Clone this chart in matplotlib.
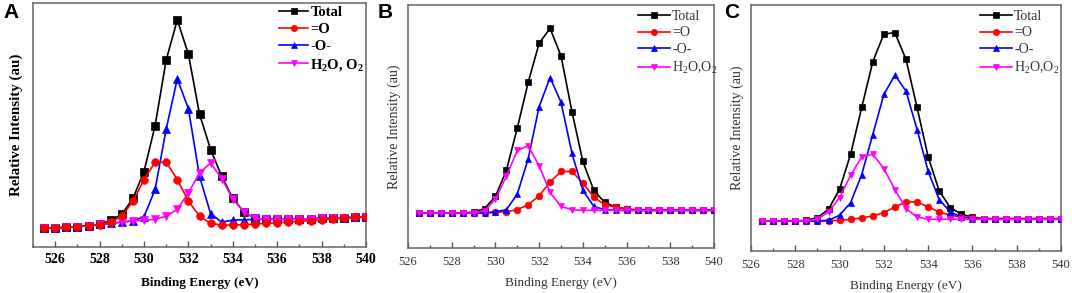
import matplotlib
matplotlib.use("Agg")
import matplotlib.pyplot as plt
from matplotlib.ticker import MultipleLocator

plt.rcParams["mathtext.fontset"] = "custom"
plt.rcParams["mathtext.rm"] = "Liberation Serif"
plt.rcParams["mathtext.bf"] = "Liberation Serif:bold"

# binding energies (eV)
energy_a = [525.5, 526, 526.5, 527, 527.5, 528, 528.5, 529, 529.5, 530, 530.5, 531, 531.5, 532,
            532.5, 533, 533.5, 534, 534.5, 535, 535.5, 536, 536.5, 537, 537.5, 538, 538.5, 539,
            539.5, 540]
energy_bc = energy_a[2:]

# panel A intensities (a.u.)
total_a = [56, 57, 59, 61, 64, 68, 80, 98, 146, 227, 365, 563, 683, 580, 400, 293, 213, 146, 106,
           86, 83, 83, 83, 84, 85, 86, 87, 88, 89, 91]
oxo_a = [56, 57, 59, 61, 64, 67, 75, 93, 137, 203, 255, 255, 203, 138, 93, 71, 66, 66, 67, 69,
         71, 73, 75, 77, 79, 81, 84, 86, 89, 91]
ether_a = [56, 57, 59, 61, 64, 68, 71, 75, 79, 91, 173, 355, 506, 416, 213, 100, 75, 81, 82, 83,
           83, 83, 83, 84, 85, 86, 87, 88, 89, 91]
water_a = [56, 57, 59, 61, 64, 68, 71, 75, 78, 81, 83, 93, 113, 163, 223, 253, 206, 145, 106, 86,
           83, 83, 83, 84, 85, 86, 87, 88, 89, 91]

# panel B
total_b = [105, 105, 105, 105, 105, 108, 118, 155, 233, 360, 498, 615, 660, 577, 410, 260, 173,
           137, 123, 117, 113, 113, 113, 113, 113, 113, 113, 113]
oxo_b = [105, 105, 105, 105, 105, 105, 105, 107, 109, 115, 130, 157, 198, 230, 230, 195, 153, 130,
         123, 118, 115, 115, 115, 115, 115, 115, 115, 115]
ether_b = [105, 105, 105, 105, 105, 105, 105, 109, 115, 162, 268, 425, 512, 438, 285, 173, 125,
           115, 113, 113, 113, 113, 113, 113, 113, 113, 113, 113]
water_b = [105, 105, 105, 105, 105, 105, 112, 147, 215, 293, 307, 247, 167, 125, 115, 113, 113,
           113, 113, 113, 113, 113, 113, 113, 113, 113, 113, 113]

# panel C
total_c = [90, 90, 90, 90, 92, 100, 125, 185, 290, 430, 567, 650, 654, 574, 430, 282, 180, 130,
           110, 102, 97, 97, 97, 97, 97, 97, 97, 97]
oxo_c = [90, 90, 90, 90, 90, 90, 90, 92, 95, 99, 105, 115, 132, 147, 147, 132, 117, 107, 102, 100,
         97, 97, 97, 97, 97, 97, 97, 97]
ether_c = [90, 90, 90, 90, 90, 90, 92, 107, 145, 229, 349, 469, 527, 479, 364, 239, 154, 117, 102,
           97, 95, 95, 95, 95, 95, 95, 95, 95]
water_c = [90, 90, 90, 90, 90, 95, 117, 160, 227, 282, 290, 247, 184, 127, 102, 95, 95, 95, 95,
           95, 95, 95, 95, 95, 95, 95, 95, 95]

W, H = 1072, 293
fig = plt.figure(figsize=(W / 100, H / 100), dpi=100)
serif = "Liberation Serif"


def box(l, r, t, b):
    return [l / W, 1 - b / H, (r - l) / W, (b - t) / H]


def panel(rect, x, series, order, xlim, ylim, bold, labels, ms, letter, letter_x, leg_anchor,
          fs):
    ax = fig.add_axes(rect)
    weight = "bold" if bold else "normal"
    tcol = "black" if bold else "#333333"
    styles = {
        "total": ("black", "s"),
        "oxo": ("red", "o"),
        "ether": ("blue", "^"),
        "water": ("magenta", "v"),
    }
    handles = {}
    for key in order:
        col, mk = styles[key]
        ln, = ax.plot(x, series[key], color=col, marker=mk, ms=ms, lw=1.2,
                      markeredgewidth=0.5, markeredgecolor=col, zorder=3)
        handles[key] = ln
    keys = ["total", "oxo", "ether", "water"]
    leg = ax.legend([handles[k] for k in keys], labels, loc="upper left",
                    bbox_to_anchor=leg_anchor, bbox_transform=fig.transFigure,
                    frameon=False, handlelength=fs["hlen"], handletextpad=0.15,
                    labelspacing=0.25, borderaxespad=0, borderpad=0,
                    prop={"family": serif, "weight": weight, "size": fs["legend"]})
    for t in leg.get_texts():
        t.set_color(tcol)
    for h in leg.legend_handles:
        h.set_markersize(4.5)
    ax.set_xlim(*xlim)
    ax.set_ylim(*ylim)
    ax.xaxis.set_major_locator(MultipleLocator(2))
    ax.xaxis.set_minor_locator(MultipleLocator(1))
    ax.tick_params(axis="x", which="major", direction="in", length=4, width=1, color="#555555",
                   labelsize=fs["tick"], labelcolor=tcol, pad=fs["pad"])
    ax.tick_params(axis="x", which="minor", direction="in", length=2.5, width=1, color="#555555")
    ax.set_yticks([])
    for lab in ax.get_xticklabels():
        lab.set_family(serif)
        lab.set_weight(weight)
    for s in ax.spines.values():
        s.set_color("#666666")
        s.set_linewidth(1.1)
    ax.set_xlabel("Binding Energy (eV)", family=serif, weight=weight, size=fs["xlabel"],
                  color=tcol, labelpad=fs["xpad"])
    ax.set_ylabel("Relative Intensity (au)", family=serif, weight=weight, size=fs["ylabel"],
                  color=tcol, labelpad=fs["ypad"])
    fig.text(letter_x / W, 1 - 3 / H, letter, family="Liberation Sans", weight="bold",
             size=15, ha="left", va="top")
    return ax


fs_a = {"legend": 10.5, "tick": 10, "pad": 4, "xlabel": 9.5, "xpad": 8, "ylabel": 10.8,
        "ypad": 7, "hlen": 2.0}
fs_bc = {"legend": 10, "tick": 9, "pad": 6, "xlabel": 9.5, "xpad": 6, "ylabel": 10,
         "ypad": 5, "hlen": 2.3}

panel(box(33, 366, 3, 247), energy_a,
      {"total": total_a, "oxo": oxo_a, "ether": ether_a, "water": water_a},
      ["total", "ether", "water", "oxo"], (525, 540), (0, 734), True,
      ["Total", "=O", "-O-", "H$\\mathbf{_2}$O, O$\\mathbf{_2}$"], 5.5, "A", 3,
      (279 / W, 1 - 6 / H), fs_a)

panel(box(408, 714, 5, 248), energy_bc,
      {"total": total_b, "oxo": oxo_b, "ether": ether_b, "water": water_b},
      ["total", "oxo", "ether", "water"], (526, 540), (0, 730), False,
      ["Total", "=O", "-O-", "H$_2$O,O$_2$"], 4.8, "B", 378,
      (638 / W, 1 - 10 / H), fs_bc)

panel(box(751, 1061, 5, 251), energy_bc,
      {"total": total_c, "oxo": oxo_c, "ether": ether_c, "water": water_c},
      ["total", "oxo", "ether", "water"], (526, 540), (0, 737), False,
      ["Total", "=O", "-O-", "H$_2$O,O$_2$"], 4.8, "C", 724,
      (980 / W, 1 - 10 / H), fs_bc)

fig.savefig("out.png", dpi=100)
